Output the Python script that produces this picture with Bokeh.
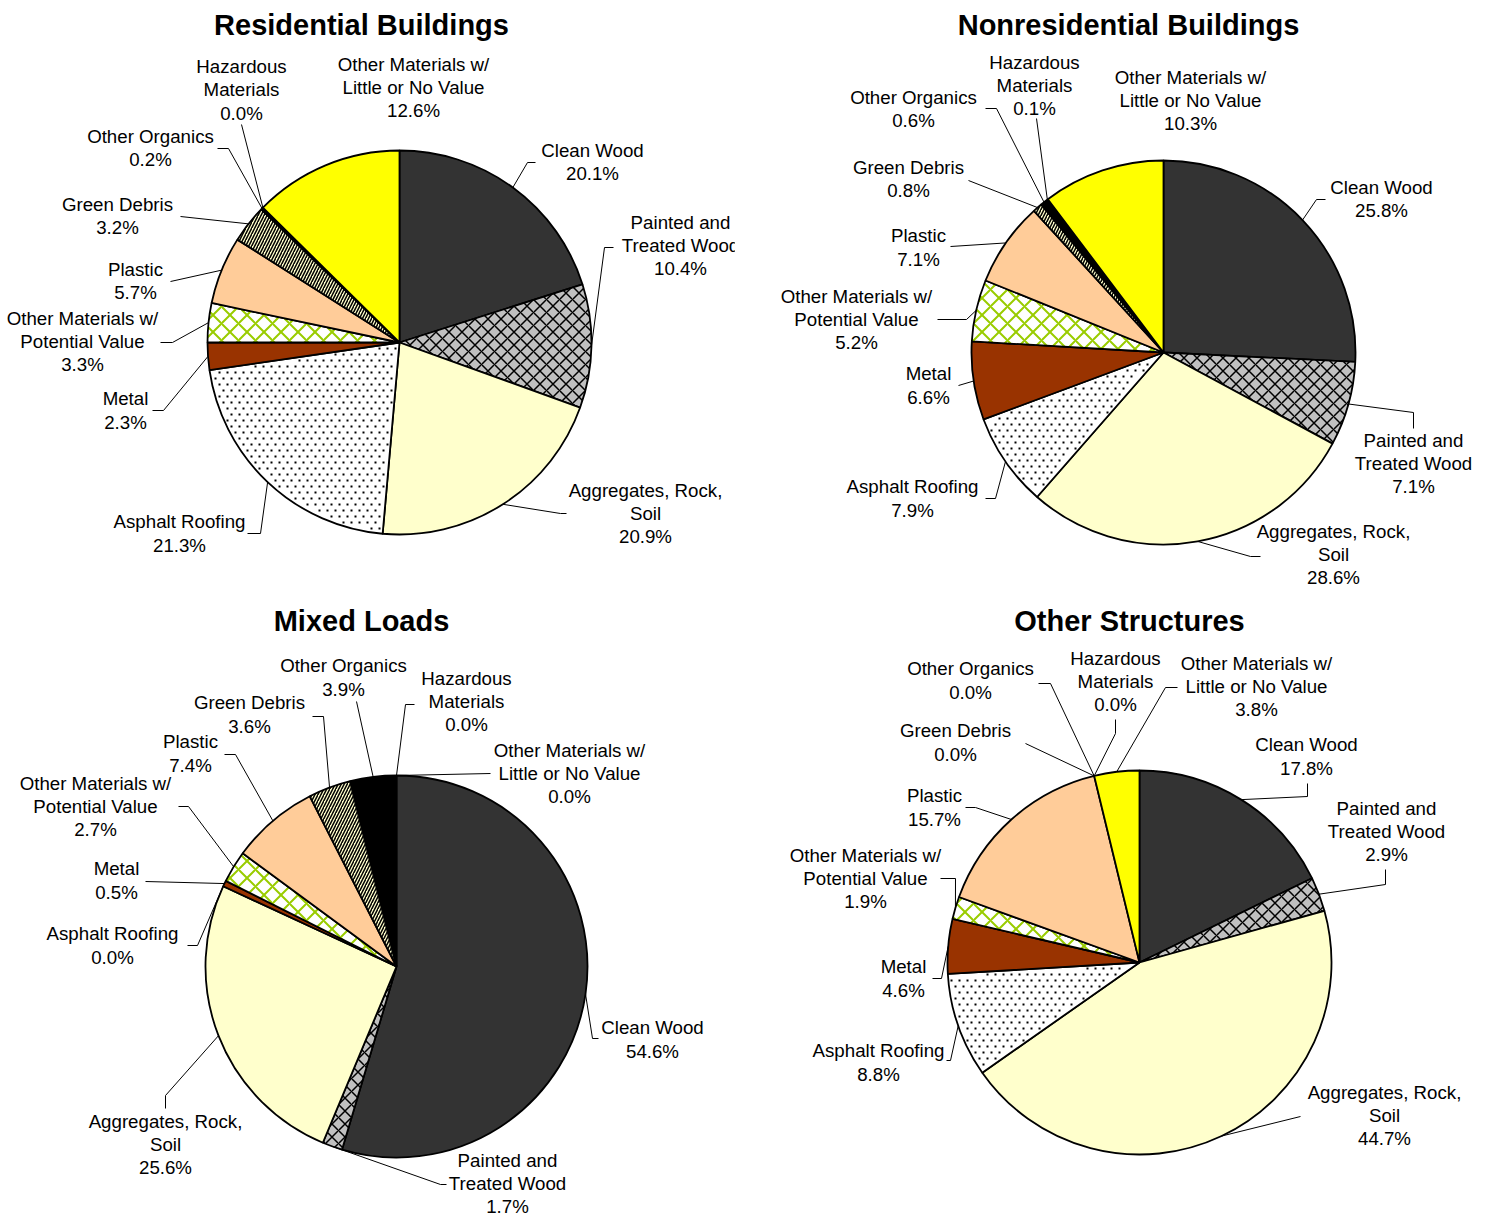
import math
from bokeh.plotting import figure
from bokeh.models import Range1d
from bokeh.layouts import column, row
from bokeh.embed import file_html
from bokeh.resources import INLINE
from bokeh.core.properties import value

# ---------------- data ----------------
categories = ["Clean Wood", "Painted and Treated Wood", "Aggregates, Rock, Soil",
              "Asphalt Roofing", "Metal", "Other Materials w/ Potential Value",
              "Plastic", "Green Debris", "Other Organics", "Hazardous Materials",
              "Other Materials w/ Little or No Value"]
label_names = ["Clean Wood", "Painted and\nTreated Wood", "Aggregates, Rock,\nSoil",
               "Asphalt Roofing", "Metal", "Other Materials w/\nPotential Value",
               "Plastic", "Green Debris", "Other Organics", "Hazardous\nMaterials",
               "Other Materials w/\nLittle or No Value"]
residential = [20.1, 10.4, 20.9, 21.3, 2.3, 3.3, 5.7, 3.2, 0.2, 0.0, 12.6]
nonresidential = [25.8, 7.1, 28.6, 7.9, 6.6, 5.2, 7.1, 0.8, 0.6, 0.1, 10.3]
mixed_loads = [54.6, 1.7, 25.6, 0.0, 0.5, 2.7, 7.4, 3.6, 3.9, 0.0, 0.0]
other_structures = [17.8, 2.9, 44.7, 8.8, 4.6, 1.9, 15.7, 0.0, 0.0, 0.0, 3.8]
titles = ["Residential Buildings", "Nonresidential Buildings", "Mixed Loads", "Other Structures"]

# ---------------- styles ----------------
slice_styles = [
    dict(fill="#333333"),
    dict(fill="#C0C0C0", hatch="diagonal_cross", hc="black", hs=13, hw=1.5),
    dict(fill="#FFFFCC"),
    dict(fill="white", dots=(8, 6)),          # sparse dot texture (dx, dy)
    dict(fill="#993300"),
    dict(fill="white", hatch="diagonal_cross", hc="#99CC00", hs=17, hw=2),
    dict(fill="#FFCC99"),
    dict(fill="#FFFFCC", hatch="right_diagonal_line", hc="black", hs=6, hw=1.5),
    dict(fill="#000000"),
    dict(fill="#000000"),
    dict(fill="#FFFF00"),
]

FONT = "Liberation Sans"
H_IMG = 1217

# layout (image pixel coordinates)
layouts = [
    dict(region=(0, 0, 735, 597), center=(399, 342), r=192, title=(361, 24),
         labels=[((592, 161.5), [(527, 162), (535, 162)]),
                 ((680, 245), [(604, 247), (613, 247)]),
                 ((645, 513), [(560, 513), (566, 513)]),
                 ((179, 533), [(260, 533), (247, 533)]),
                 ((125, 410), [(163, 410), (152, 410)]),
                 ((82, 341), [(172, 342), (160, 342)]),
                 ((135, 280.5), [(170, 281)]),
                 ((117, 215.5), [(180, 216)]),
                 ((150, 147.5), [(228, 148), (217, 148)]),
                 ((241, 89.5), [(241, 124)]),
                 ((413, 87), [])]),
    dict(region=(735, 0, 754, 597), center=(1163, 352), r=192, title=(1128, 24),
         labels=[((1381, 198.5), [(1316, 199), (1325, 199)]),
                 ((1413, 463), [(1413, 412), (1413, 428)]),
                 ((1333, 554), [(1250, 556), (1260, 556)]),
                 ((912, 498), [(995, 498), (985, 498)]),
                 ((928, 385), [(958, 385)]),
                 ((856, 319), [(966, 319), (937, 319)]),
                 ((918, 247), [(950, 246)]),
                 ((908, 178.5), [(968, 180)]),
                 ((913, 108.5), [(996, 108), (985, 108)]),
                 ((1034, 85), [(1036, 118)]),
                 ((1190, 100), [])]),
    dict(region=(0, 597, 735, 620), center=(396, 966), r=191, title=(361, 620),
         labels=[((652, 1039), [(592, 1038), (598, 1038)]),
                 ((507, 1183), [(440, 1184), (446, 1184)]),
                 ((165, 1144), [(165, 1095), (165, 1108)]),
                 ((112, 945), [(197, 945), (187, 945)]),
                 ((116, 880), [(145, 881)]),
                 ((95, 806), [(188, 806), (178, 806)]),
                 ((190, 753), [(235, 754), (224, 754)]),
                 ((249, 714), [(323, 716), (312, 716)]),
                 ((343, 677), [(356, 701)]),
                 ((466, 701), [(405, 704), (414, 704)]),
                 ((569, 773), [(490, 773)])]),
    dict(region=(735, 597, 754, 620), center=(1139, 962), r=192, title=(1129, 620),
         labels=[((1306, 756), [(1307, 796), (1307, 783)]),
                 ((1386, 831), [(1385, 884), (1385, 869)]),
                 ((1384, 1115), [(1300, 1116)]),
                 ((878, 1062), [(950, 1060), (946, 1060)]),
                 ((903, 978), [(941, 978), (932, 978)]),
                 ((865, 878), [(955, 878), (940, 878)]),
                 ((934, 807), [(975, 807), (965, 807)]),
                 ((955, 742), [(1025, 743)]),
                 ((970, 680), [(1050, 683), (1038, 683)]),
                 ((1115, 681), [(1115, 733), (1115, 719)]),
                 ((1256, 686), [(1165, 687), (1177, 687)])]),
]


def Y(y):
    return H_IMG - y


def dot_texture(cx, cy, r, f0, f1, dx, dy):
    """Lattice of small dots covering the wedge between fractions f0..f1."""
    xs, ys = [], []
    a0 = math.pi / 2 - 2 * math.pi * f0
    a1 = math.pi / 2 - 2 * math.pi * f1
    n_rows = int(2 * r / dy) + 2
    n_cols = int(2 * r / dx) + 2
    for iy in range(n_rows):
        py = round(cy - r) + iy * dy
        off = (dx // 2) if iy % 2 else 0
        for ix in range(n_cols):
            px = round(cx - r) + ix * dx + off
            ddx, ddy = px - cx, py - cy
            d = math.hypot(ddx, ddy)
            if d > r - 3 or d < 2:
                continue
            frac = ((math.pi / 2 - math.atan2(ddy, ddx)) / (2 * math.pi)) % 1.0
            if not (f0 < frac < f1):
                continue
            # keep away from the two radial edges
            t = math.atan2(ddy, ddx)
            if abs(d * math.sin(t - a0)) < 2.5 or abs(d * math.sin(t - a1)) < 2.5:
                continue
            xs.append(px)
            ys.append(py)
    return xs, ys


def make_pie(values, title, lay):
    x0, y0, w, h = lay["region"]
    p = figure(width=w, height=h, x_range=Range1d(x0, x0 + w),
               y_range=Range1d(Y(y0 + h), Y(y0)), output_backend="svg",
               toolbar_location=None, min_border=0, x_axis_type=None,
               y_axis_type=None, outline_line_color=None)
    p.grid.visible = False
    cx, cy = lay["center"][0], Y(lay["center"][1])
    r = lay["r"]
    total = sum(values)
    cum = 0.0
    mids = []
    textures = []
    for v, st in zip(values, slice_styles):
        f0 = cum / total
        f1 = (cum + v) / total
        mids.append((f0 + f1) / 2)
        cum += v
        if v <= 0:
            continue
        kw = dict(fill_color=st["fill"], line_color="black", line_width=1.8)
        if st.get("hatch"):
            kw.update(hatch_pattern=st["hatch"], hatch_color=st["hc"],
                      hatch_scale=st["hs"], hatch_weight=st["hw"])
        p.wedge(x=cx, y=cy, radius=r, start_angle=math.pi / 2 - 2 * math.pi * f0,
                end_angle=math.pi / 2 - 2 * math.pi * f1, direction="clock", **kw)
        if st.get("dots"):
            textures.append(dot_texture(cx, cy, r, f0, f1, *st["dots"]))
    for xs, ys in textures:
        p.scatter(xs, ys, marker="square", size=2, fill_color="black",
                  line_color=None)
    # leader lines and labels
    for (pos, pts), name, v, m in zip(lay["labels"], label_names, values, mids):
        if pts:
            a = math.pi / 2 - 2 * math.pi * m
            xs = [cx + r * math.cos(a)] + [q[0] for q in pts]
            ys = [cy + r * math.sin(a)] + [Y(q[1]) for q in pts]
            p.line(xs, ys, line_color="black", line_width=1)
        p.text(x=[pos[0]], y=[Y(pos[1])], text=[f"{name}\n{v:.1f}%"],
               text_font=value(FONT), text_font_size="18.7px", text_align="center",
               text_baseline="middle", text_line_height=1.1, text_color="black")
    p.text(x=[lay["title"][0]], y=[Y(lay["title"][1])], text=[title],
           text_font=value(FONT), text_font_size="29px", text_font_style="bold",
           text_align="center", text_baseline="middle", text_color="black")
    return p


figs = [make_pie(vals, t, lay) for vals, t, lay in
        zip([residential, nonresidential, mixed_loads, other_structures], titles, layouts)]

layout = column(row(figs[0], figs[1], spacing=0), row(figs[2], figs[3], spacing=0), spacing=0)
open("out.html", "w").write(file_html(layout, INLINE))
